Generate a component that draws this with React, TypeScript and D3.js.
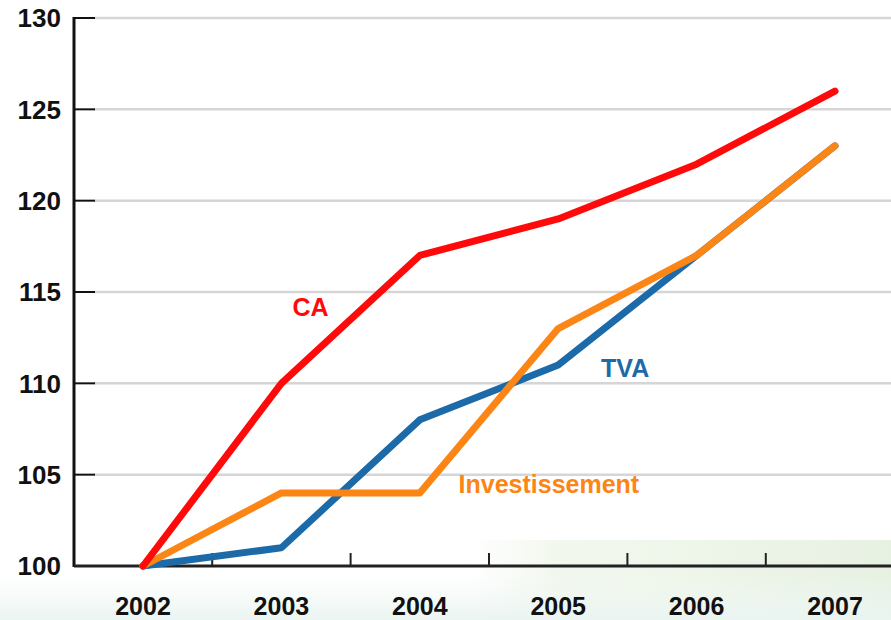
import React from 'react';
import * as d3 from 'd3';

const years = [2002, 2003, 2004, 2005, 2006, 2007];
const yTicks = [100, 105, 110, 115, 120, 125, 130];

const caValues = [100, 110, 117, 119, 122, 126];
const tvaValues = [100, 101, 108, 111, 117, 123];
const invValues = [100, 104, 104, 113, 117, 123];

// label anchors in data space: [year, value]
const seriesLabels = [
  { name: 'CA', at: [2003.08, 113.7], color: '#ff0a0a' },
  { name: 'TVA', at: [2005.31, 110.35], color: '#1c6aa8' },
  { name: 'Investissement', at: [2004.28, 104.0], color: '#fb8616' },
];

const W = 891;
const H = 620;
const FONT = '"Liberation Sans", Arial, sans-serif';

export default function App() {
  const x = d3.scaleLinear().domain([2002, 2007]).range([143, 835]);
  const y = d3.scaleLinear().domain([100, 130]).range([566, 18]);
  const axisX = 74;

  const line = d3
    .line<number>()
    .x((_, i) => x(years[i]))
    .y((d) => y(d));

  const series = [
    { values: tvaValues, color: '#1c6aa8' },
    { values: invValues, color: '#fb8616' },
    { values: caValues, color: '#ff0a0a' },
  ];

  // tick marks sit between the years
  const xTicks = d3.range(2002.5, 2007, 1);

  return (
    <svg
      width={W}
      height={H}
      style={{ position: 'absolute', left: 0, top: 0, background: '#fff' }}
    >
      <defs>
        <linearGradient id="bgRight" x1="0" y1="0" x2="1" y2="0">
          <stop offset="0" stopColor="#f1f7ee" stopOpacity="0" />
          <stop offset="0.2" stopColor="#f1f7ec" stopOpacity="0.9" />
          <stop offset="1" stopColor="#e7f1e2" stopOpacity="1" />
        </linearGradient>
        <linearGradient id="bgBottom" x1="0" y1="0" x2="0" y2="1">
          <stop offset="0" stopColor="#f1f8f6" stopOpacity="0" />
          <stop offset="1" stopColor="#eaf4f1" stopOpacity="1" />
        </linearGradient>
      </defs>

      <rect x={470} y={540} width={W - 470} height={H - 540} fill="url(#bgRight)" />
      <rect x={0} y={575} width={W} height={H - 575} fill="url(#bgBottom)" />

      {/* gridlines */}
      {yTicks.slice(1).map((t) => (
        <line
          key={'g' + t}
          x1={axisX + 20}
          x2={W}
          y1={y(t)}
          y2={y(t)}
          stroke="#d6d6d6"
          strokeWidth={2.5}
        />
      ))}

      {/* y axis */}
      <line x1={axisX} x2={axisX} y1={y(130) - 1} y2={y(100) + 1} stroke="#111" strokeWidth={3} />
      {yTicks.map((t) => (
        <g key={'yt' + t}>
          <line x1={axisX} x2={axisX + 21} y1={y(t)} y2={y(t)} stroke="#111" strokeWidth={2} />
          <text
            x={61}
            y={y(t)}
            dy="0.36em"
            textAnchor="end"
            fontFamily={FONT}
            fontWeight="bold"
            fontSize={26}
            fill="#111"
          >
            {t}
          </text>
        </g>
      ))}

      {/* x axis */}
      <line x1={axisX} x2={W} y1={y(100)} y2={y(100)} stroke="#222" strokeWidth={3} />
      {xTicks.map((t) => (
        <line
          key={'xt' + t}
          x1={x(t)}
          x2={x(t)}
          y1={y(100)}
          y2={y(100) - 13}
          stroke="#222"
          strokeWidth={2}
        />
      ))}
      {years.map((yr) => (
        <text
          key={'xl' + yr}
          x={x(yr)}
          y={615}
          textAnchor="middle"
          fontFamily={FONT}
          fontWeight="bold"
          fontSize={25}
          fill="#111"
        >
          {yr}
        </text>
      ))}

      {/* series */}
      {series.map((s, i) => (
        <path
          key={'s' + i}
          d={line(s.values) || ''}
          fill="none"
          stroke={s.color}
          strokeWidth={7}
          strokeLinejoin="round"
          strokeLinecap="round"
        />
      ))}

      {seriesLabels.map((l) => (
        <text
          key={l.name}
          x={x(l.at[0])}
          y={y(l.at[1])}
          fontFamily={FONT}
          fontWeight="bold"
          fontSize={25}
          fill={l.color}
        >
          {l.name}
        </text>
      ))}
    </svg>
  );
}
